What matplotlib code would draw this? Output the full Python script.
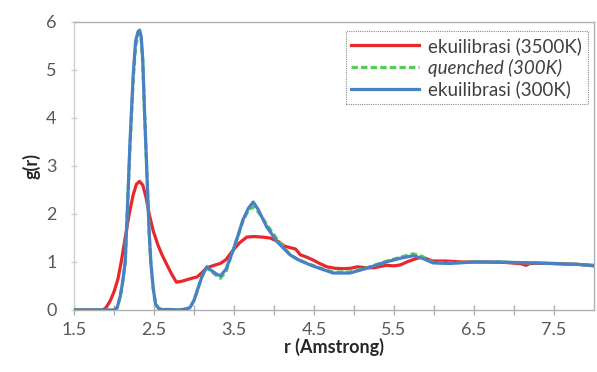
"""Radial distribution function g(r) for three simulation states."""

import matplotlib.pyplot as plt
from matplotlib.ticker import MultipleLocator, FixedLocator

# ekuilibrasi (3500K)
r_hot = [1.5, 1.86, 1.9, 1.95, 2.0, 2.05, 2.09, 2.14, 2.19, 2.24, 2.28, 2.32, 2.36,
         2.4, 2.44, 2.49, 2.55, 2.6, 2.65, 2.72, 2.78, 2.85, 2.95, 3.04, 3.1, 3.16,
         3.25, 3.33, 3.4, 3.49, 3.57, 3.66, 3.75, 3.85, 3.95, 4.06, 4.13, 4.2, 4.27,
         4.33, 4.41, 4.49, 4.57, 4.66, 4.76, 4.87, 4.96, 5.04, 5.15, 5.25, 5.4, 5.5,
         5.58, 5.66, 5.74, 5.8, 5.85, 5.92, 5.99, 6.16, 6.35, 6.6, 6.9, 7.1, 7.15,
         7.2, 7.5, 7.8, 8.0]
g_hot = [0, 0, 0.05, 0.18, 0.38, 0.65, 1.0, 1.5, 2.0, 2.4, 2.62, 2.68, 2.6,
         2.35, 2.0, 1.65, 1.35, 1.15, 0.98, 0.75, 0.58, 0.6, 0.65, 0.69, 0.78, 0.88,
         0.93, 0.97, 1.05, 1.25, 1.4, 1.52, 1.53, 1.52, 1.5, 1.42, 1.33, 1.3, 1.27,
         1.15, 1.1, 1.04, 0.97, 0.9, 0.87, 0.86, 0.87, 0.9, 0.88, 0.88, 0.93, 0.92,
         0.94, 1.0, 1.05, 1.08, 1.1, 1.06, 1.02, 1.02, 1.0, 1.0, 0.99, 0.96, 0.93,
         0.97, 0.97, 0.95, 0.93]

# quenched (300K) and ekuilibrasi (300K)
r_cold = [1.5, 2.0, 2.04, 2.08, 2.11, 2.14, 2.17, 2.2, 2.24, 2.27, 2.3, 2.32, 2.34,
          2.36, 2.38, 2.41, 2.44, 2.46, 2.49, 2.52, 2.56, 2.6, 2.7, 2.8, 2.9, 2.95,
          3.0, 3.05, 3.1, 3.16, 3.22, 3.28, 3.33, 3.4, 3.49, 3.55, 3.61, 3.68, 3.74,
          3.8, 3.91, 4.04, 4.2, 4.3, 4.45, 4.6, 4.74, 4.95, 5.16, 5.36, 5.58, 5.74,
          5.85, 5.99, 6.2, 6.5, 6.8, 7.0, 7.3, 7.6, 7.8, 8.0]
g_quench = [0, 0, 0.05, 0.3, 0.6, 1.0, 2.2, 3.4, 4.8, 5.5, 5.72, 5.78, 5.65,
            5.15, 4.2, 2.9, 1.6, 1.0, 0.45, 0.12, 0.03, 0.01, 0.01, 0.0, 0.02, 0.05,
            0.2, 0.45, 0.7, 0.88, 0.8, 0.72, 0.66, 0.8, 1.25, 1.55, 1.85, 2.08, 2.15,
            2.05, 1.78, 1.47, 1.15, 1.05, 0.95, 0.86, 0.79, 0.79, 0.88, 0.99, 1.1,
            1.17, 1.12, 0.99, 0.98, 1.0, 1.0, 0.99, 0.98, 0.96, 0.95, 0.92]
g_equil = [0, 0, 0.05, 0.3, 0.6, 1.0, 2.2, 3.5, 4.9, 5.6, 5.8, 5.83, 5.7,
           5.2, 4.2, 2.9, 1.6, 1.0, 0.45, 0.12, 0.03, 0.01, 0.01, 0.0, 0.02, 0.05,
           0.2, 0.45, 0.7, 0.9, 0.82, 0.75, 0.71, 0.85, 1.25, 1.55, 1.87, 2.12, 2.25,
           2.1, 1.73, 1.42, 1.15, 1.05, 0.94, 0.85, 0.77, 0.77, 0.87, 0.98, 1.08,
           1.13, 1.08, 0.98, 0.97, 1.0, 1.0, 0.99, 0.98, 0.96, 0.95, 0.92]

labels = ['ekuilibrasi (3500K)', 'quenched (300K)', 'ekuilibrasi (300K)']
x_ticks = [1.5, 2.5, 3.5, 4.5, 5.5, 6.5, 7.5]

plt.rcParams['font.family'] = ['Lato', 'DejaVu Sans']

fig = plt.figure(figsize=(5.97, 3.72), dpi=100)
ax = fig.add_axes([74 / 597, 62 / 372, 520 / 597, 288 / 372])

lw = 2.3
l_hot, = ax.plot(r_hot, g_hot, color='#e8282c', linewidth=lw, label=labels[0], zorder=2)
l_q, = ax.plot(r_cold, g_quench, color='#55cc55', linewidth=lw, linestyle=(0, (2, 1)),
               label=labels[1], zorder=3)
l_eq, = ax.plot(r_cold, g_equil, color='#4a80c4', linewidth=lw, label=labels[2], zorder=4)

ax.set_xlim(1.5, 8.0)
ax.set_ylim(0, 6)
ax.xaxis.set_major_locator(FixedLocator(x_ticks))
ax.xaxis.set_minor_locator(FixedLocator([2.0, 3.0, 4.0, 5.0, 6.0, 7.0]))
ax.yaxis.set_major_locator(MultipleLocator(1))

for side in ['top', 'right', 'bottom', 'left']:
    ax.spines[side].set_color('#b0b0b0')
    ax.spines[side].set_linewidth(1.0)
ax.spines['left'].set_color('#d0d0d0')

ax.tick_params(axis='x', which='both', direction='inout', length=7, width=1,
               color='#b0b0b0', labelsize=13, labelcolor='#595959', pad=5)
ax.tick_params(axis='y', direction='inout', length=5, width=1, color='#d0d0d0',
               pad=10, labelsize=13, labelcolor='#595959')

ax.set_xlabel('r (Amstrong)', fontsize=13, fontweight='bold', color='#262626', labelpad=0)
ax.set_ylabel('g(r)', fontsize=13, fontweight='bold', color='#262626', labelpad=4)

leg = ax.legend(handles=[l_hot, l_q, l_eq], loc='upper right',
                bbox_to_anchor=(0.988, 0.968), fontsize=13.5, handlelength=3.6,
                handletextpad=0.5, labelspacing=0.2, borderpad=0.3,
                borderaxespad=0, fancybox=False, framealpha=1)
leg.get_frame().set_edgecolor('#8c8c8c')
leg.get_frame().set_linestyle((0, (1, 1)))
leg.get_frame().set_linewidth(0.8)
leg.get_texts()[1].set_style('italic')
for t in leg.get_texts():
    t.set_color('#404040')

fig.savefig('out.png', dpi=100)
